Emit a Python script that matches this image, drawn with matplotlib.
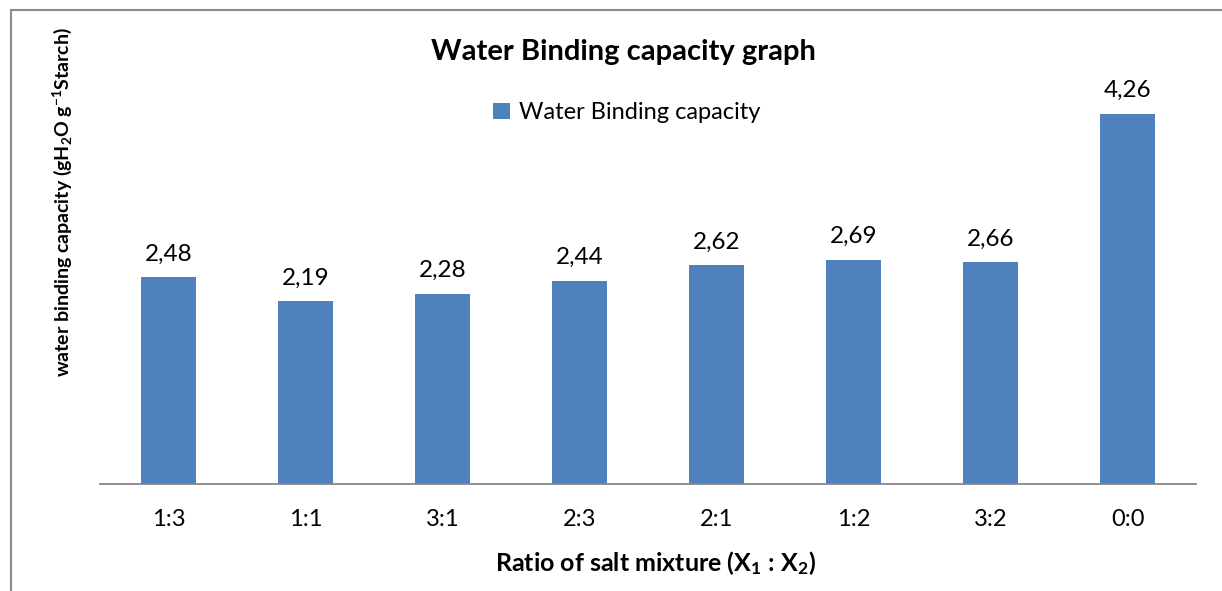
import matplotlib
matplotlib.use('Agg')
import matplotlib.pyplot as plt
from matplotlib.lines import Line2D

# data
ratios = ['1:3', '1:1', '3:1', '2:3', '2:1', '1:2', '3:2', '0:0']
bar_heights = [2.48, 2.19, 2.28, 2.44, 2.62, 2.69, 2.66, 4.44]
value_labels = ['2,48', '2,19', '2,28', '2,44', '2,62', '2,69', '2,66', '4,26']

plt.rcParams['font.family'] = ['Lato', 'DejaVu Sans']
plt.rcParams['mathtext.fontset'] = 'custom'
plt.rcParams['mathtext.rm'] = 'Lato:bold'
plt.rcParams['mathtext.it'] = 'Lato:bold'
plt.rcParams['mathtext.bf'] = 'Lato:bold'

W, H = 1222, 591
fig = plt.figure(figsize=(W / 100, H / 100), dpi=100)

# plot area in pixels
left, right, bottom, top = 100, 1196, 484, 67
ax = fig.add_axes([left / W, 1 - bottom / H, (right - left) / W, (bottom - top) / H])

bar_color = '#4F81BD'
x = range(len(ratios))
bars = ax.bar(x, bar_heights, width=0.4, color=bar_color, label='Water Binding capacity')
ax.set_xlim(-0.5, len(ratios) - 0.5)
ax.set_ylim(0, 5)

for b, lab in zip(bars, value_labels):
    ax.text(b.get_x() + b.get_width() / 2, b.get_height() + 0.15, lab,
            ha='center', va='bottom', fontsize=17.5, color='black')

ax.set_xticks(list(x))
ax.set_xticklabels(ratios, fontsize=17)
ax.tick_params(axis='x', length=0, pad=18)
ax.set_yticks([])
for s in ['top', 'right', 'left']:
    ax.spines[s].set_visible(False)
ax.spines['bottom'].set_color('#878787')
ax.spines['bottom'].set_linewidth(1.3)

ax.set_xlabel(r'Ratio of salt mixture (X$_1$ : X$_2$)', fontsize=18, fontweight='bold')
ax.xaxis.set_label_coords(655 / W, 1 - 563 / H, transform=fig.transFigure)
ax.xaxis.label.set_va('center')

fig.text(623 / W, 1 - 52 / H, 'Water Binding capacity graph', ha='center', va='center',
         fontsize=21, fontweight='bold')
fig.text(62 / W, 1 - 202 / H, r'water binding capacity (gH$_2$O g$^{-1}$Starch)',
         rotation=90, ha='center', va='center', fontsize=14, fontweight='bold')

ax.legend(loc='center', bbox_to_anchor=(627 / W, 1 - 113 / H), bbox_transform=fig.transFigure,
          frameon=False, fontsize=17, handlelength=0.7, handleheight=0.7, handletextpad=0.4)

# outer frame (left and top edges only are visible)
fig.add_artist(Line2D([11 / W, 11 / W], [0, 1 - 10 / H], color='#8c8c8c', lw=1.5, transform=fig.transFigure))
fig.add_artist(Line2D([11 / W, 1], [1 - 10 / H, 1 - 10 / H], color='#8c8c8c', lw=1.5, transform=fig.transFigure))

fig.savefig('out.png', dpi=100)
